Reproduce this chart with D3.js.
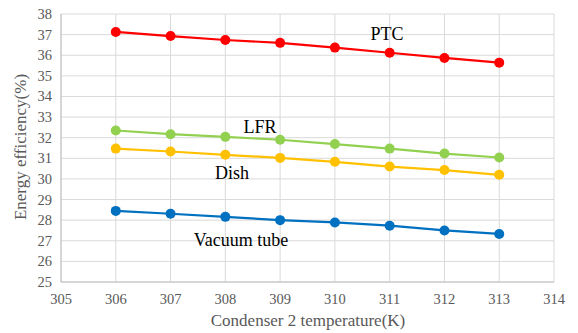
<!DOCTYPE html>
<html>
<head>
<meta charset="utf-8">
<script src="https://cdn.jsdelivr.net/npm/d3@7.9.0/dist/d3.min.js"></script>
<style>
  body { margin: 0; background: #fff; }
  svg text { font-family: "Liberation Serif", "Times New Roman", serif; }
</style>
</head>
<body>
<svg width="578" height="333"></svg>
<script>
// data
const temps = [306, 307, 308, 309, 310, 311, 312, 313];
const ptc = [37.13, 36.93, 36.74, 36.6, 36.37, 36.12, 35.87, 35.64];
const lfr = [32.35, 32.17, 32.04, 31.9, 31.69, 31.47, 31.23, 31.04];
const dish = [31.47, 31.33, 31.17, 31.02, 30.83, 30.6, 30.43, 30.2];
const vacuum = [28.45, 28.31, 28.16, 28.0, 27.89, 27.73, 27.5, 27.33];
const xTicks = d3.range(305, 315);
const yTicks = d3.range(25, 39);

const series = [
  { name: 'PTC', values: ptc, color: '#ff0000', lx: 387, ly: 40 },
  { name: 'LFR', values: lfr, color: '#92d050', lx: 260, ly: 133 },
  { name: 'Dish', values: dish, color: '#ffc000', lx: 232, ly: 179 },
  { name: 'Vacuum tube', values: vacuum, color: '#0070c0', lx: 241, ly: 246 }
];

const svg = d3.select('svg');
const x = d3.scaleLinear().domain([305, 314]).range([61, 554]);
const y = d3.scaleLinear().domain([25, 38]).range([282, 14]);

// gridlines
svg.append('g')
  .selectAll('line')
  .data(yTicks)
  .join('line')
  .attr('x1', x(305)).attr('x2', x(314))
  .attr('y1', d => y(d)).attr('y2', d => y(d))
  .attr('stroke', '#d9d9d9').attr('stroke-width', 1);
svg.append('g')
  .selectAll('line')
  .data(xTicks)
  .join('line')
  .attr('x1', d => x(d)).attr('x2', d => x(d))
  .attr('y1', y(25)).attr('y2', y(38))
  .attr('stroke', '#d9d9d9').attr('stroke-width', 1);

// axes lines
svg.append('line').attr('x1', x(305)).attr('x2', x(305)).attr('y1', y(25)).attr('y2', y(38))
  .attr('stroke', '#bfbfbf');
svg.append('line').attr('x1', x(305)).attr('x2', x(314)).attr('y1', y(25)).attr('y2', y(25))
  .attr('stroke', '#bfbfbf');

// tick labels
svg.append('g')
  .selectAll('text')
  .data(yTicks)
  .join('text')
  .attr('x', 52).attr('y', d => y(d) + 5)
  .attr('text-anchor', 'end')
  .attr('font-size', 14.5).attr('fill', '#595959')
  .text(d => d);
svg.append('g')
  .selectAll('text')
  .data(xTicks)
  .join('text')
  .attr('x', d => x(d)).attr('y', 304)
  .attr('text-anchor', 'middle')
  .attr('font-size', 14.5).attr('fill', '#595959')
  .text(d => d);

// axis titles
svg.append('text')
  .attr('x', 308).attr('y', 326)
  .attr('text-anchor', 'middle')
  .attr('font-size', 17).attr('fill', '#595959')
  .text('Condenser 2 temperature(K)');
svg.append('text')
  .attr('transform', 'translate(26,147) rotate(-90)')
  .attr('text-anchor', 'middle')
  .attr('font-size', 17).attr('fill', '#595959')
  .text('Energy efficiency(%)');

// lines + markers
const line = d3.line().x((d, i) => x(temps[i])).y(d => y(d));
series.forEach(s => {
  svg.append('path')
    .attr('d', line(s.values))
    .attr('fill', 'none')
    .attr('stroke', s.color)
    .attr('stroke-width', 2.2);
  svg.append('g')
    .selectAll('circle')
    .data(s.values)
    .join('circle')
    .attr('cx', (d, i) => x(temps[i]))
    .attr('cy', d => y(d))
    .attr('r', 5)
    .attr('fill', s.color);
  svg.append('text')
    .attr('x', s.lx).attr('y', s.ly)
    .attr('text-anchor', 'middle')
    .attr('font-size', 18).attr('fill', '#000')
    .text(s.name);
});
</script>
</body>
</html>
